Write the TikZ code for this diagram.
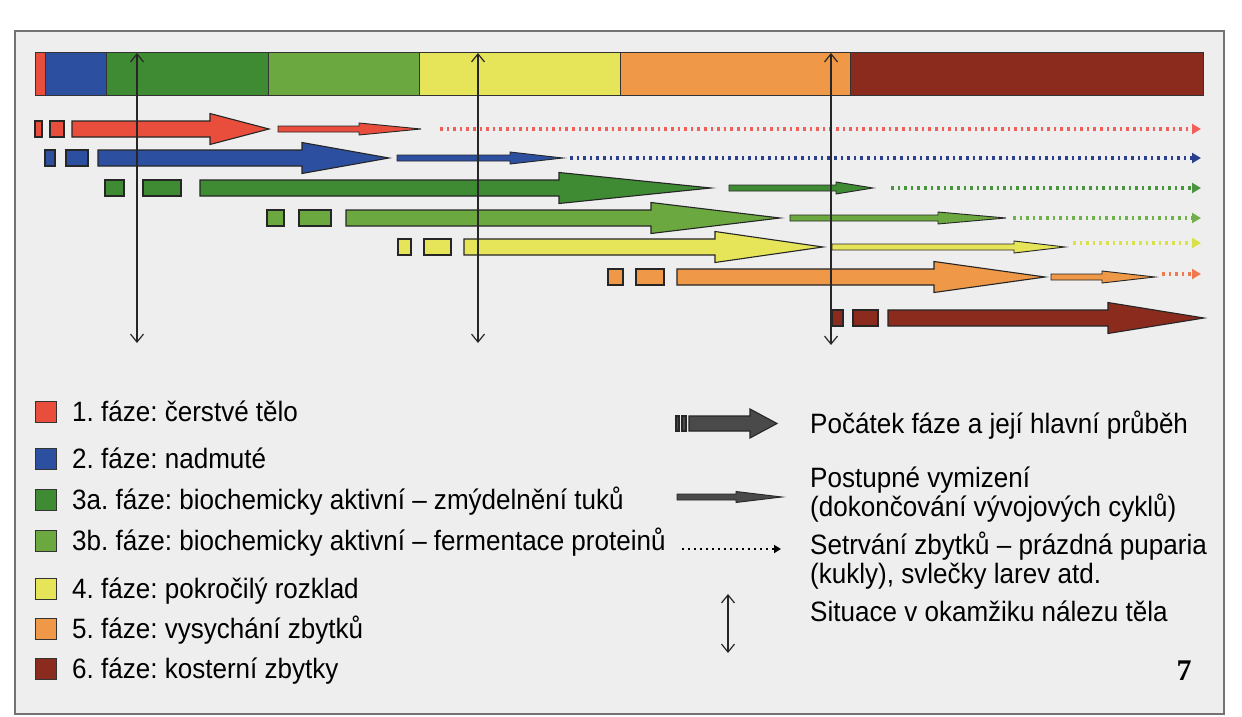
\documentclass[tikz,border=0pt]{standalone}
\usepackage{fontspec}
\setmainfont[FakeStretch=0.93]{Liberation Sans}
\newfontfamily\numfont{Liberation Serif}
\usetikzlibrary{arrows.meta}
\frenchspacing
\definecolor{pagebg}{HTML}{EEEEEE}
\definecolor{cRed}{HTML}{E94E3D}
\definecolor{cBlue}{HTML}{2D4FA0}
\definecolor{cDkGreen}{HTML}{3E8B34}
\definecolor{cLtGreen}{HTML}{6BA83F}
\definecolor{cYellow}{HTML}{E6E55A}
\definecolor{cOrange}{HTML}{EE9848}
\definecolor{cBrown}{HTML}{8A2B1E}
\definecolor{dRed}{HTML}{F0605A}
\definecolor{dBlue}{HTML}{2A3F8F}
\definecolor{dDkGreen}{HTML}{4A9440}
\definecolor{dLtGreen}{HTML}{6FB04A}
\definecolor{dYellow}{HTML}{D8E04A}
\definecolor{dOrange}{HTML}{F07A50}
\definecolor{iconGray}{HTML}{4A4A4A}
\tikzset{
  outl/.style={draw=black!85, line width=1.1pt, line join=miter},
  segm/.style={draw=black!80, line width=1pt},
  dots/.style={line width=3.4pt, dash pattern=on 2.6pt off 4pt,
    -{Triangle[length=9pt,width=10pt]}},
  finding/.style={line width=1.2pt, black!85,
    {Straight Barb[length=8pt,width=13pt]}-{Straight Barb[length=8pt,width=13pt]}},
  legtext/.style={anchor=base west, inner sep=0pt, font=\fontsize{28}{32}\selectfont},
  legsq/.style={draw=black!80, line width=1pt},
}
% big arrow: colour, y, x0, head base, tip
\newcommand\PhBig[5]{%
  \filldraw[outl, fill=#1] (#3,#2-8) -- (#4,#2-8) -- (#4,#2-15.5) -- (#5,#2)
    -- (#4,#2+15.5) -- (#4,#2+8) -- (#3,#2+8) -- cycle;}
% thin arrow: colour, y, x0, head base, tip
\newcommand\PhThin[5]{%
  \filldraw[outl, line width=0.9pt, fill=#1] (#3,#2-3) -- (#4,#2-3) -- (#4,#2-6) -- (#5,#2)
    -- (#4,#2+6) -- (#4,#2+3) -- (#3,#2+3) -- cycle;}
% square: colour, y, x0, x1
\newcommand\PhSq[4]{%
  \filldraw[outl, fill=#1] (#3,#2-8) rectangle (#4,#2+8);}
% dotted: colour, y, x0, x1
\newcommand\PhDots[4]{%
  \draw[dots, #1] (#3,#2) -- (#4,#2);}
\begin{document}
\begin{tikzpicture}[x=1pt,y=-1pt]
\useasboundingbox (0,0) rectangle (1242,717);
\fill[white] (0,0) rectangle (1242,717);
\filldraw[fill=pagebg, draw=black!55, line width=1.2pt] (15,31) rectangle (1224,714);

% phase bar
\filldraw[segm, fill=cRed]     (35,53)  rectangle (45,95);
\filldraw[segm, fill=cBlue]    (45,53)  rectangle (106,95);
\filldraw[segm, fill=cDkGreen] (106,53) rectangle (268,95);
\filldraw[segm, fill=cLtGreen] (268,53) rectangle (419,95);
\filldraw[segm, fill=cYellow]  (419,53) rectangle (620,95);
\filldraw[segm, fill=cOrange]  (620,53) rectangle (850,95);
\filldraw[segm, fill=cBrown]   (850,53) rectangle (1203,95);

% row 1 red
\PhSq{cRed}{129}{35}{42}
\PhSq{cRed}{129}{50}{64}
\PhBig{cRed}{129}{72}{210}{269}
\PhThin{cRed}{129}{278}{359}{421}
\PhDots{dRed}{129}{440}{1201}
% row 2 blue
\PhSq{cBlue}{158}{45}{55}
\PhSq{cBlue}{158}{66}{88}
\PhBig{cBlue}{158}{98}{302}{389}
\PhThin{cBlue}{158}{397}{510}{563}
\PhDots{dBlue}{158}{570}{1201}
% row 3 dark green
\PhSq{cDkGreen}{188}{105}{124}
\PhSq{cDkGreen}{188}{143}{181}
\PhBig{cDkGreen}{188}{200}{559}{711}
\PhThin{cDkGreen}{188}{729}{836}{873}
\PhDots{dDkGreen}{188}{891}{1201}
% row 4 light green
\PhSq{cLtGreen}{218}{267}{284}
\PhSq{cLtGreen}{218}{299}{331}
\PhBig{cLtGreen}{218}{346}{651}{780}
\PhThin{cLtGreen}{218}{790}{938}{1006}
\PhDots{dLtGreen}{218}{1013}{1201}
% row 5 yellow
\PhSq{cYellow}{247}{398}{411}
\PhSq{cYellow}{247}{424}{451}
\PhBig{cYellow}{247}{464}{715}{823}
\PhThin{cYellow}{247}{832}{1014}{1065}
\PhDots{dYellow}{243}{1073}{1201}
% row 6 orange
\PhSq{cOrange}{277}{608}{623}
\PhSq{cOrange}{277}{636}{664}
\PhBig{cOrange}{277}{677}{934}{1045}
\PhThin{cOrange}{277}{1051}{1102}{1155}
\PhDots{dOrange}{274}{1162}{1201}
% row 7 brown
\PhSq{cBrown}{318}{832}{843}
\PhSq{cBrown}{318}{853}{878}
\PhBig{cBrown}{318}{888}{1108}{1204}

% moments of finding
\coordinate (fa1) at (137,53);  \coordinate (fa2) at (137,343);
\coordinate (fb1) at (478,53);  \coordinate (fb2) at (478,343);
\coordinate (fc1) at (831,53);  \coordinate (fc2) at (831,345);
\draw[finding] (fa1) -- (fa2);
\draw[finding] (fb1) -- (fb2);
\draw[finding] (fc1) -- (fc2);

% legend left
\filldraw[legsq, fill=cRed]     (35,401) rectangle (56,422);
\filldraw[legsq, fill=cBlue]    (35,448) rectangle (56,469);
\filldraw[legsq, fill=cDkGreen] (35,489) rectangle (56,510);
\filldraw[legsq, fill=cLtGreen] (35,530) rectangle (56,551);
\filldraw[legsq, fill=cYellow]  (35,578) rectangle (56,599);
\filldraw[legsq, fill=cOrange]  (35,618) rectangle (56,639);
\filldraw[legsq, fill=cBrown]   (35,658) rectangle (56,679);
\node[legtext] (l1) at (72,421) {1. fáze: čerstvé tělo};
\node[legtext] (l2) at (72,468) {2. fáze: nadmuté};
\node[legtext] (l3) at (72,509) {3a. fáze: biochemicky aktivní – zmýdelnění tuků};
\node[legtext] (l4) at (72,550) {3b. fáze: biochemicky aktivní – fermentace proteinů};
\node[legtext] (l5) at (72,598) {4. fáze: pokročilý rozklad};
\node[legtext] (l6) at (72,638) {5. fáze: vysychání zbytků};
\node[legtext] (l7) at (72,678) {6. fáze: kosterní zbytky};

% legend right: icons
\filldraw[outl, fill=iconGray] (676,416) rectangle (679,431);
\filldraw[outl, fill=iconGray] (682,416) rectangle (686,431);
\filldraw[outl, fill=iconGray] (689,416) -- (750,416) -- (750,409) -- (777,423.5)
   -- (750,438) -- (750,431) -- (689,431) -- cycle;
\filldraw[outl, line width=0.9pt, fill=iconGray] (677,494) -- (736,494) -- (736,491.5) -- (782,497)
   -- (736,502.5) -- (736,500) -- (677,500) -- cycle;
\coordinate (dl1) at (682,549); \coordinate (dl2) at (781,549);
\draw[dots, black, line width=2.8pt, dash pattern=on 2.2pt off 3.8pt,
   -{Triangle[length=7pt,width=8pt]}] (dl1) -- (dl2);
\coordinate (dd1) at (728,594); \coordinate (dd2) at (728,653);
\draw[finding] (dd1) -- (dd2);

% legend right: texts
\node[legtext] (r1) at (810,433) {Počátek fáze a její hlavní průběh};
\node[legtext] (r2) at (810,487) {Postupné vymizení};
\node[legtext] (r3) at (810,516) {(dokončování vývojových cyklů)};
\node[legtext] (r4) at (810,554) {Setrvání zbytků – prázdná puparia};
\node[legtext] (r5) at (810,583) {(kukly), svlečky larev atd.};
\node[legtext] (r6) at (810,621) {Situace v okamžiku nálezu těla};
\node[anchor=base, inner sep=0pt, font=\numfont\bfseries\fontsize{30}{34}\selectfont] (pg) at (1184,680) {7};
\end{tikzpicture}
\end{document}
